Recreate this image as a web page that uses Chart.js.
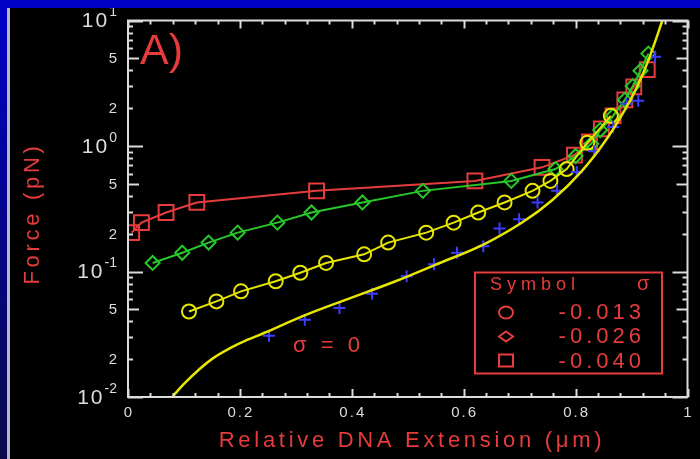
<!DOCTYPE html>
<html>
<head>
<meta charset="utf-8">
<script src="https://cdn.jsdelivr.net/npm/chart.js@4/dist/chart.umd.min.js"></script>
<style>
  html, body { margin: 0; padding: 0; background: #000; }
  body { width: 700px; height: 459px; position: relative; overflow: hidden; }
  #topbar { position: absolute; left: 0; top: 0; width: 700px; height: 8px; background: #0000c8; }
  #leftbar { position: absolute; left: 0; top: 8px; width: 7px; height: 451px; background: linear-gradient(#0000c8, #0a0a4a); }
  #leftline { position: absolute; left: 7px; top: 8px; width: 3px; height: 451px; background: #b4b4cc; }
  #wrap { position: absolute; left: 10px; top: 8px; width: 690px; height: 451px; }
</style>
</head>
<body>
<div id="topbar"></div>
<div id="leftbar"></div>
<div id="leftline"></div>
<div id="wrap"><canvas id="forceChart"></canvas></div>
<script>
// Данные
const xTickValues = [0, 0.2, 0.4, 0.6, 0.8, 1];
const xTickLabels = ['0', '0.2', '0.4', '0.6', '0.8', '1'];
const yDecades = [0.01, 0.1, 1, 10];
const yDecadeExp = ['-2', '-1', '0', '1'];
const yMinorValues = [0.02, 0.05, 0.2, 0.5, 2, 5];
const yMinorLabels = ['2', '5', '2', '5', '2', '5'];

// sigma = 0 (синие кресты)
const sigma0X = [0.252, 0.316, 0.378, 0.436, 0.498, 0.547, 0.588, 0.635, 0.664, 0.699, 0.732, 0.767, 0.802, 0.833, 0.867, 0.891, 0.912, 0.942];
const sigma0Y = [0.0308, 0.0413, 0.0513, 0.0664, 0.0916, 0.114, 0.141, 0.159, 0.220, 0.261, 0.355, 0.439, 0.62, 0.91, 1.42, 2.17, 2.29, 5.15];

// sigma = -0.013 (жёлтые круги)
const sigma013X = [0.109, 0.158, 0.202, 0.264, 0.308, 0.354, 0.422, 0.465, 0.533, 0.582, 0.626, 0.673, 0.723, 0.755, 0.784, 0.821, 0.863];
const sigma013Y = [0.048, 0.0578, 0.0695, 0.0836, 0.0977, 0.117, 0.137, 0.170, 0.204, 0.245, 0.295, 0.355, 0.439, 0.527, 0.655, 1.06, 1.74];

// sigma = -0.026 (зелёные ромбы)
const sigma026X = [0.044, 0.097, 0.144, 0.196, 0.267, 0.328, 0.419, 0.527, 0.685, 0.764, 0.8, 0.828, 0.844, 0.867, 0.888, 0.902, 0.916, 0.930];
const sigma026Y = [0.117, 0.141, 0.170, 0.204, 0.245, 0.295, 0.355, 0.439, 0.527, 0.655, 0.832, 1.04, 1.34, 1.74, 2.33, 3.0, 3.98, 5.45];

// sigma = -0.040 (красные квадраты)
const sigma040X = [0.0065, 0.024, 0.068, 0.123, 0.337, 0.62, 0.74, 0.798, 0.825, 0.846, 0.867, 0.888, 0.904, 0.928];
const sigma040Y = [0.204, 0.245, 0.295, 0.355, 0.439, 0.527, 0.676, 0.847, 1.08, 1.37, 1.74, 2.33, 2.96, 4.06];

// теоретическая кривая для sigma = 0
const wlcX = [0.079, 0.1, 0.126, 0.153, 0.184, 0.214, 0.244, 0.319, 0.39, 0.477, 0.547, 0.635, 0.705, 0.758, 0.811, 0.858, 0.898, 0.921, 0.939, 0.955];
const wlcY = [0.01, 0.0127, 0.0164, 0.0205, 0.0247, 0.0286, 0.0325, 0.0453, 0.0597, 0.0832, 0.112, 0.164, 0.247, 0.37, 0.631, 1.18, 2.33, 3.84, 6.19, 10];

const legendSigma = ['-0.013', '-0.026', '-0.040'];

const RED = '#e63c3c';
const YELLOW = '#e6e600';
const GREEN = '#28c828';
const BLUE = '#3c3cff';
const WHITE = '#dcdcdc';
const FONT = '"Liberation Sans", Arial, sans-serif';

const pts = (xs, ys) => xs.map((x, i) => ({ x: x, y: ys[i] }));

// Рамка, засечки, подписи и легенда
const framePlugin = {
    id: 'frame',
    afterDatasetsDraw(chart) {
        const { ctx, chartArea: a, scales: { x, y } } = chart;
        ctx.save();
        ctx.strokeStyle = WHITE;
        ctx.lineWidth = 2;
        ctx.strokeRect(a.left, a.top, a.right - a.left, a.bottom - a.top);

        // засечки по Y (внутрь)
        for (let d = 0; d < yDecades.length; d++) {
            for (let m = 1; m <= 9; m++) {
                const v = yDecades[d] * m;
                if (v > 10.0001) break;
                const py = Math.round(y.getPixelForValue(v)) + 0.5;
                const len = m === 1 ? 15 : (m === 5 ? 11 : 5);
                ctx.beginPath();
                ctx.moveTo(a.left, py); ctx.lineTo(a.left + len, py);
                ctx.moveTo(a.right, py); ctx.lineTo(a.right - len, py);
                ctx.stroke();
            }
        }
        // засечки по X
        for (let i = 0; i <= 25; i++) {
            const v = i * 0.04;
            const px = Math.round(x.getPixelForValue(v)) + 0.5;
            const len = i % 5 === 0 ? 8 : 4;
            ctx.beginPath();
            ctx.moveTo(px, a.bottom); ctx.lineTo(px, a.bottom - len);
            ctx.moveTo(px, a.top); ctx.lineTo(px, a.top + len);
            ctx.stroke();
        }

        ctx.fillStyle = WHITE;
        // подписи Y: 10 со степенью, выровнены вправо
        ctx.textBaseline = 'middle';
        yDecades.forEach((v, i) => {
            const py = y.getPixelForValue(v);
            ctx.font = '14px ' + FONT;
            ctx.letterSpacing = '0px';
            ctx.textAlign = 'right';
            const expW = ctx.measureText(yDecadeExp[i]).width;
            const right = a.left - 11;
            ctx.fillText(yDecadeExp[i], right, py - 8);
            ctx.font = '21px ' + FONT;
            ctx.letterSpacing = '2px';
            ctx.fillText('10', right - expW, py + 1);
        });
        ctx.font = '15px ' + FONT;
        ctx.letterSpacing = '0px';
        ctx.textAlign = 'right';
        yMinorValues.forEach((v, i) => {
            ctx.fillText(yMinorLabels[i], a.left - 11, y.getPixelForValue(v) + 1);
        });
        // подписи X
        ctx.font = '15px ' + FONT;
        ctx.letterSpacing = '2px';
        ctx.textAlign = 'center';
        xTickValues.forEach((v, i) => {
            ctx.fillText(xTickLabels[i], x.getPixelForValue(v) + 1, a.bottom + 16);
        });

        // заголовки осей
        ctx.fillStyle = RED;
        ctx.font = '22px ' + FONT;
        ctx.letterSpacing = '3.7px';
        ctx.textAlign = 'center';
        ctx.fillText('Relative DNA Extension (\u03bcm)', a.left + 284, a.bottom + 44);
        ctx.save();
        ctx.translate(a.left - 95, a.top + 193);
        ctx.rotate(-Math.PI / 2);
        ctx.fillText('Force (pN)', 0, 0);
        ctx.restore();

        // метка панели
        ctx.font = '43px ' + FONT;
        ctx.letterSpacing = '0px';
        ctx.textAlign = 'left';
        ctx.textBaseline = 'alphabetic';
        ctx.fillText('A)', a.left + 12, a.top + 43);

        ctx.font = '22px ' + FONT;
        ctx.letterSpacing = '4px';
        ctx.fillText('\u03c3 = 0', a.left + 165, a.top + 331);

        // легенда
        const lx = a.left + 347, ly = a.top + 252, lw = 187, lh = 101;
        ctx.strokeStyle = RED;
        ctx.lineWidth = 2;
        ctx.strokeRect(lx, ly, lw, lh);
        ctx.font = '18px ' + FONT;
        ctx.letterSpacing = '5px';
        ctx.fillText('Symbol', lx + 15, ly + 17);
        ctx.font = '20px ' + FONT;
        ctx.letterSpacing = '0px';
        ctx.fillText('\u03c3', lx + 162, ly + 17);
        ctx.font = '22px ' + FONT;
        ctx.letterSpacing = '4px';
        ctx.textAlign = 'right';
        legendSigma.forEach((s, i) => {
            ctx.fillText(s, lx + 170, ly + 46 + i * 24.5);
        });
        // значки легенды
        const sx = lx + 31;
        ctx.beginPath();
        ctx.ellipse(sx, ly + 40, 7, 6, 0, 0, Math.PI * 2);
        ctx.stroke();
        ctx.beginPath();
        ctx.moveTo(sx - 7, ly + 64); ctx.lineTo(sx, ly + 59); ctx.lineTo(sx + 7, ly + 64); ctx.lineTo(sx, ly + 69); ctx.closePath();
        ctx.stroke();
        ctx.strokeRect(sx - 7, ly + 82, 14, 12);
        ctx.restore();
    }
};

const chart = new Chart(document.getElementById('forceChart'), {
    type: 'scatter',
    data: {
        datasets: [
            {
                label: 'WLC',
                data: pts(wlcX, wlcY),
                showLine: true,
                borderColor: YELLOW,
                borderWidth: 2.5,
                pointRadius: 0,
                tension: 0.4,
                clip: 0,
                order: 0
            },
            {
                label: '0',
                data: pts(sigma0X, sigma0Y),
                showLine: false,
                pointStyle: 'cross',
                pointRadius: 6,
                borderColor: BLUE,
                pointBorderWidth: 2,
                order: 1
            },
            {
                label: '-0.013',
                data: pts(sigma013X, sigma013Y),
                showLine: true,
                borderColor: YELLOW,
                backgroundColor: 'transparent',
                borderWidth: 2,
                pointStyle: 'circle',
                pointRadius: 7,
                pointBorderWidth: 2,
                order: 2
            },
            {
                label: '-0.026',
                data: pts(sigma026X, sigma026Y),
                showLine: true,
                borderColor: GREEN,
                backgroundColor: 'transparent',
                borderWidth: 2,
                pointStyle: 'rectRot',
                pointRadius: 7,
                pointBorderWidth: 2,
                order: 3
            },
            {
                label: '-0.040',
                data: pts(sigma040X, sigma040Y),
                showLine: true,
                borderColor: RED,
                backgroundColor: 'transparent',
                borderWidth: 2,
                pointStyle: 'rect',
                pointRadius: 10.5,
                pointBorderWidth: 2,
                clip: 0,
                order: 4
            }
        ]
    },
    options: {
        responsive: true,
        maintainAspectRatio: false,
        animation: false,
        layout: { padding: { left: 118, right: 2, top: 12, bottom: 62 } },
        plugins: { legend: { display: false }, tooltip: { enabled: false } },
        scales: {
            x: {
                type: 'linear',
                min: 0,
                max: 1,
                grid: { display: false },
                border: { display: false },
                ticks: { display: false },
                afterFit: s => { s.height = 0; }
            },
            y: {
                type: 'logarithmic',
                min: 0.01,
                max: 10,
                grid: { display: false },
                border: { display: false },
                ticks: { display: false },
                afterFit: s => { s.width = 0; }
            }
        }
    },
    plugins: [framePlugin]
});
</script>
</body>
</html>
